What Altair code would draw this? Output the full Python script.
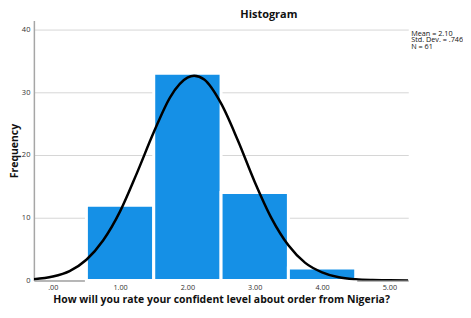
import altair as alt
import pandas as pd

# Histogram bins (bin centers) and frequencies
bin_centers = [1, 2, 3, 4]
frequencies = [12, 33, 14, 2]

# Normal curve (x, frequency)
curve_x = [-0.28, 0.0, 0.25, 0.5, 0.75, 1.0, 1.25, 1.5, 1.75, 2.0, 2.1, 2.25, 2.5, 2.75,
           3.0, 3.25, 3.5, 3.75, 4.0, 4.25, 4.5, 4.75, 5.0, 5.28]
curve_y = [0.2, 0.63, 1.5, 3.3, 6.4, 11.0, 17.1, 23.6, 29.3, 32.3, 32.6, 32.0, 28.2, 22.3,
           15.7, 9.9, 5.6, 2.8, 1.3, 0.5, 0.18, 0.06, 0.02, 0.0]

stats_lines = ["Mean = 2.10", "Std. Dev. = .746", "N = 61"]

FONT = "Open Sans"
bars_df = pd.DataFrame({"center": bin_centers, "freq": frequencies})
curve_df = pd.DataFrame({"x": curve_x, "y": curve_y})

x_scale = alt.Scale(domain=[-0.28, 5.28], nice=False, zero=False)
y_scale = alt.Scale(domain=[0, 41.4], nice=False)

x_axis = alt.Axis(
    values=[0, 1, 2, 3, 4, 5],
    labelExpr="datum.value == 0 ? '.00' : format(datum.value, '.2f')",
    grid=False, ticks=False, labelFontSize=7.3, labelColor="#333333",
    labelPadding=3, labelFlush=False, domainColor="#a6a6a6", domainWidth=1.5,
    title="How will you rate your confident level about order from Nigeria?",
    titleFontSize=10.5, titleFontWeight="bold", titleColor="#111111",
    titlePadding=4, labelFont=FONT, titleFont=FONT,
)
y_axis = alt.Axis(
    values=[0, 10, 20, 30, 40], grid=True, gridColor="#d6d6d6", gridWidth=1,
    ticks=False, labelFontSize=7.5, labelColor="#333333", labelPadding=4,
    labelFlush=False, domainColor="#a6a6a6", domainWidth=1.5,
    title="Frequency", titleFontSize=10.5, titleFontWeight="bold",
    titleColor="#111111", titlePadding=2, labelFont=FONT, titleFont=FONT,
)

bars = alt.Chart(bars_df).transform_calculate(
    x0="datum.center - 0.5", x1="datum.center + 0.5"
).mark_bar(color="#1590e6", stroke="white", strokeWidth=3).encode(
    x=alt.X("x0:Q", scale=x_scale, axis=x_axis),
    x2="x1:Q",
    y=alt.Y("freq:Q", scale=y_scale, axis=y_axis),
    y2=alt.datum(0),
)

curve = alt.Chart(curve_df).mark_line(
    color="black", strokeWidth=2.5, interpolate="monotone", clip=True
).encode(
    x=alt.X("x:Q", scale=x_scale),
    y=alt.Y("y:Q", scale=y_scale),
)

stats = alt.Chart(pd.DataFrame({"t": [0]})).mark_text(
    text=stats_lines, align="left", baseline="top", fontSize=7.3, lineHeight=6.8,
    font=FONT, color="#111111",
).encode(x=alt.value(379), y=alt.value(9))

chart = alt.layer(bars, curve, stats).properties(
    width=376, height=261,
    autosize=alt.AutoSizeParams(type="none"),
    padding={"left": 26, "top": 12, "right": 55, "bottom": 29},
    title=alt.TitleParams("Histogram", fontSize=11, fontWeight="bold", font=FONT,
                          color="#111111", anchor="middle", dx=48, offset=1),
).configure_view(stroke=None)

chart.save("out.html", embed_options={"renderer": "svg", "actions": False})
